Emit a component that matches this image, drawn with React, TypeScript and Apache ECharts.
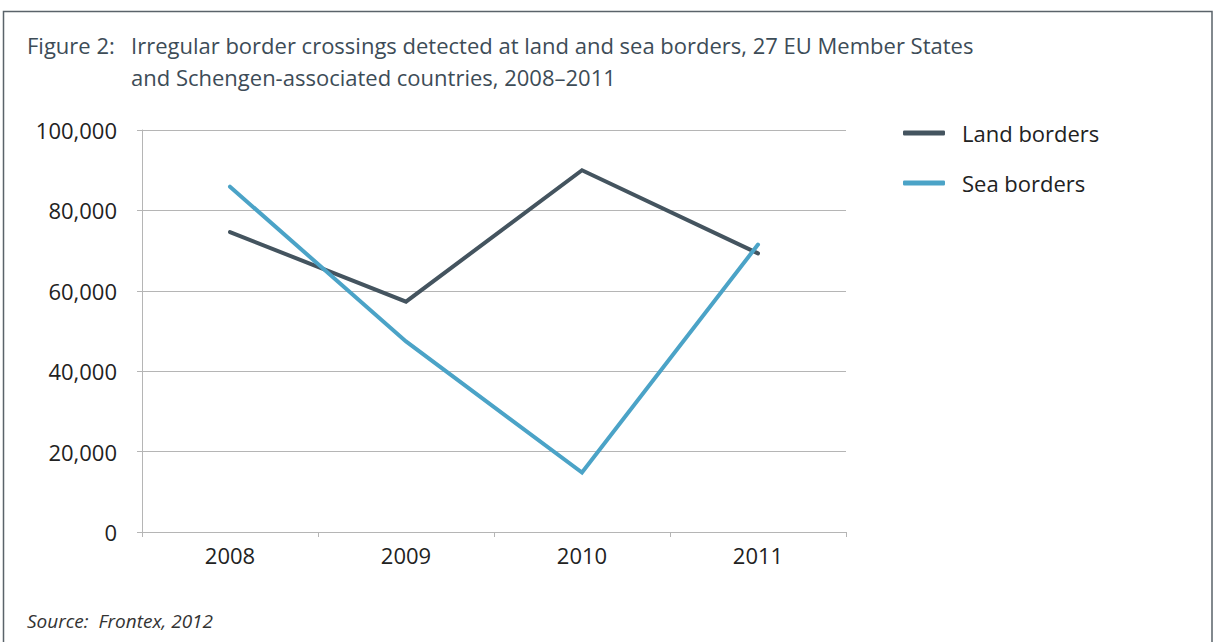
import React, { useEffect, useRef } from "react";
import * as echarts from "echarts";

const years = ["2008", "2009", "2010", "2011"];
const landBorders = [74600, 57300, 90000, 69300];
const seaBorders = [85900, 47400, 14800, 71500];
const seriesNames = ["Land borders", "Sea borders"];
const titleLabel = "Figure 2:";
const titleLines = [
  "Irregular border crossings detected at land and sea borders, 27 EU Member States",
  "and Schengen-associated countries, 2008–2011",
];
const sourceText = "Source:  Frontex, 2012";

const FONT = "'Open Sans', 'Noto Sans', sans-serif";
const LAND = "#44545f";
const SEA = "#4ba3c7";

export default function App() {
  const ref = useRef<HTMLDivElement>(null);
  useEffect(() => {
    if (!ref.current) return;
    const chart = echarts.init(ref.current, undefined, { renderer: "svg" });
    chart.setOption({
      animation: false,
      backgroundColor: "#ffffff",
      textStyle: { fontFamily: FONT },
      grid: { left: 142, right: 368, top: 130, bottom: 110, containLabel: false },
      legend: {
        orient: "vertical",
        left: 898,
        top: 116,
        itemWidth: 42,
        itemHeight: 5,
        itemGap: 26,
        icon: "roundRect",
        textStyle: { fontSize: 22, color: "#222", lineHeight: 24, padding: [0, 0, 0, 12] },
        data: seriesNames,
      },
      xAxis: {
        type: "category",
        data: years,
        boundaryGap: true,
        axisLine: { show: true, lineStyle: { color: "#b5b5b5", width: 1 } },
        axisTick: { show: true, alignWithLabel: false, length: 5, lineStyle: { color: "#b5b5b5" } },
        axisLabel: { fontSize: 22, color: "#222", margin: 12, fontFamily: FONT },
        splitLine: { show: false },
      },
      yAxis: {
        type: "value",
        min: 0,
        max: 100000,
        interval: 20000,
        axisLine: { show: true, lineStyle: { color: "#b5b5b5", width: 1 } },
        axisTick: { show: true, length: 5, lineStyle: { color: "#b5b5b5" } },
        axisLabel: {
          fontSize: 22,
          color: "#222",
          margin: 25,
          fontFamily: FONT,
          formatter: (v: number) => v.toLocaleString("en-US"),
        },
        splitLine: { show: true, lineStyle: { color: "#b5b5b5", width: 1 } },
      },
      series: [
        {
          name: seriesNames[0],
          type: "line",
          data: landBorders,
          showSymbol: false,
          symbol: "none",
          lineStyle: { color: LAND, width: 4, cap: "round", join: "miter" },
          itemStyle: { color: LAND },
        },
        {
          name: seriesNames[1],
          type: "line",
          data: seaBorders,
          showSymbol: false,
          symbol: "none",
          lineStyle: { color: SEA, width: 4, cap: "round", join: "miter" },
          itemStyle: { color: SEA },
        },
      ],
      graphic: [
        {
          type: "rect",
          shape: { x: 3.5, y: 11.5, width: 1208.5, height: 640 },
          style: { fill: "none", stroke: "#5a636a", lineWidth: 1.5 },
          silent: true,
        },
        {
          type: "text",
          x: 27,
          y: 45,
          style: { text: titleLabel, fontSize: 22, fill: "#3d4c57", fontFamily: FONT, verticalAlign: "middle" },
        },
        {
          type: "text",
          x: 131,
          y: 45,
          style: { text: titleLines[0], fontSize: 22, fill: "#3d4c57", fontFamily: FONT, verticalAlign: "middle" },
        },
        {
          type: "text",
          x: 131,
          y: 77,
          style: { text: titleLines[1], fontSize: 22, fill: "#3d4c57", fontFamily: FONT, verticalAlign: "middle" },
        },
        {
          type: "text",
          x: 27,
          y: 621,
          style: {
            text: sourceText,
            fontSize: 19,
            fontStyle: "italic",
            fill: "#333",
            fontFamily: FONT,
            verticalAlign: "middle",
          },
        },
      ],
    });
    return () => chart.dispose();
  }, []);
  return (
    <div
      ref={ref}
      style={{ position: "fixed", left: 0, top: 0, width: 1214, height: 642 }}
    />
  );
}
